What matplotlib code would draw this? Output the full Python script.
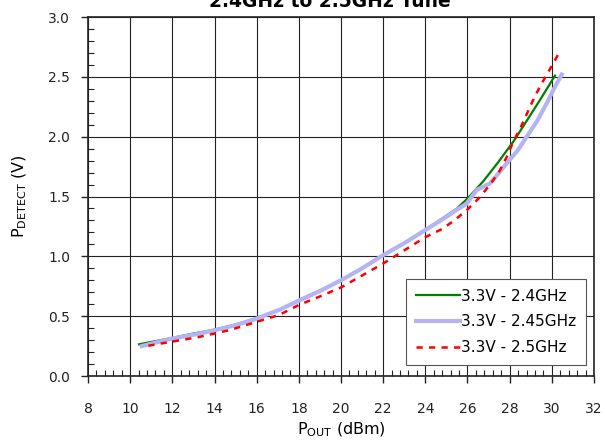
import matplotlib.pyplot as plt
from matplotlib.ticker import MultipleLocator

plt.rcParams['font.family'] = ['DejaVu Sans']
plt.rcParams['mathtext.fontset'] = 'dejavusans'

# Detector output vs output power, three tune frequencies
x_24 = [10.42, 11.9, 13.0, 13.94, 15.0, 15.92, 17.1, 18.0, 19.0, 20.0, 21.0, 22.0,
        23.0, 24.0, 25.0, 25.5, 26.04, 26.76, 27.47, 28.18, 28.8, 29.45, 30.15]
y_24 = [0.265, 0.315, 0.355, 0.385, 0.43, 0.48, 0.557, 0.635, 0.715, 0.80, 0.90, 1.01,
        1.11, 1.22, 1.34, 1.40, 1.49, 1.63, 1.79, 1.96, 2.13, 2.31, 2.51]

x_245 = [10.55, 11.9, 13.0, 13.94, 15.0, 15.92, 17.1, 18.0, 19.0, 20.0, 21.0, 22.0,
         23.0, 24.0, 25.0, 25.5, 25.96, 26.44, 27.07, 27.5, 28.02, 28.4, 28.81, 29.3,
         29.76, 30.1, 30.47]
y_245 = [0.25, 0.31, 0.345, 0.38, 0.425, 0.475, 0.555, 0.63, 0.71, 0.80, 0.90, 1.01,
         1.11, 1.22, 1.33, 1.39, 1.44, 1.555, 1.61, 1.70, 1.81, 1.89, 2.0, 2.13,
         2.28, 2.40, 2.52]

x_25 = [10.86, 11.73, 13.23, 14.74, 16.32, 17.06, 18.0, 19.0, 20.0, 21.0, 22.0, 23.0,
        24.0, 24.81, 25.37, 25.99, 26.56, 27.07, 27.51, 27.86, 28.18, 28.53, 28.89,
        29.2, 29.57, 29.96, 30.31]
y_25 = [0.253, 0.28, 0.325, 0.385, 0.47, 0.51, 0.594, 0.665, 0.74, 0.84, 0.94, 1.05,
        1.16, 1.23, 1.30, 1.39, 1.49, 1.60, 1.71, 1.83, 1.96, 2.08, 2.22,
        2.34, 2.46, 2.58, 2.69]

fig = plt.figure(figsize=(6.05, 4.43), dpi=100)
ax = fig.add_axes([0.1455, 0.1512, 0.8363, 0.8104])

ax.plot(x_24, y_24, color='#008000', lw=1.6, label='3.3V - 2.4GHz', zorder=3)
ax.plot(x_245, y_245, color='#b4b4f4', lw=3.0, label='3.3V - 2.45GHz', zorder=4)
ax.plot(x_25, y_25, color='#ff0000', lw=1.8, ls=(0, (2.5, 2.5)), label='3.3V - 2.5GHz', zorder=5)

ax.set_xlim(8, 32)
ax.set_ylim(0, 3.0)
ax.xaxis.set_major_locator(MultipleLocator(2))
ax.xaxis.set_minor_locator(MultipleLocator(0.4))
ax.yaxis.set_major_locator(MultipleLocator(0.5))
ax.yaxis.set_minor_locator(MultipleLocator(0.1))
ax.yaxis.set_major_formatter(plt.FormatStrFormatter('%.1f'))

ax.grid(which='major', color='#222222', lw=0.8)
ax.tick_params(which='major', direction='out', length=5, width=1, labelsize=10, colors='#222222')
ax.tick_params(which='minor', direction='in', length=4, width=0.8, colors='#222222')
ax.tick_params(axis='x', pad=14)
ax.tick_params(axis='y', pad=8)
for s in ax.spines.values():
    s.set_color('#222222')
    s.set_linewidth(1.2)

ax.set_xlabel('P$_{\\mathrm{OUT}}$ (dBm)', fontsize=11.5, labelpad=3)
ax.set_ylabel('P$_{\\mathrm{DETECT}}$ (V)', fontsize=11.5, labelpad=14)
fig.text(330 / 605, 1 - 7 / 443, '2.4GHz to 2.5GHz Tune', ha='center', va='baseline',
         fontsize=13.5, fontweight='bold')

leg = ax.legend(loc='lower right', bbox_to_anchor=(0.984, 0.031), fontsize=11,
                fancybox=False, framealpha=1, edgecolor='#555555',
                handlelength=2.9, handletextpad=0.05, borderpad=0.65, labelspacing=0.7,
                borderaxespad=0)
leg.get_frame().set_linewidth(0.8)

fig.savefig('out.png', dpi=100)
